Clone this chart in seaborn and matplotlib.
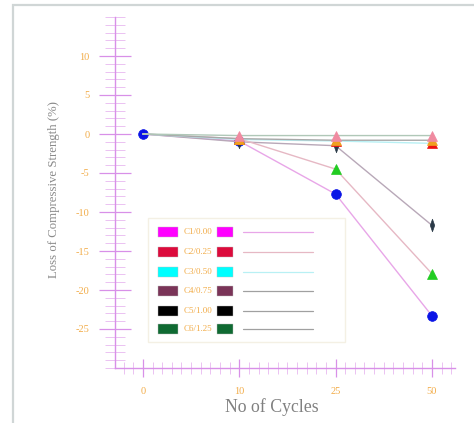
import numpy as np
import pandas as pd
import matplotlib
matplotlib.use("Agg")
import matplotlib.pyplot as plt
import seaborn as sns
from matplotlib.patches import Rectangle
from matplotlib.lines import Line2D
from matplotlib.path import Path
from matplotlib.ticker import MultipleLocator

# ---- data ----
cycles = ["0", "10", "25", "50"]
labels = ["C1/0.00", "C2/0.25", "C3/0.50", "C4/0.75", "C5/1.00", "C6/1.25"]
c1 = [0, -0.9, -7.7, -23.3]
c2 = [0, -0.6, -4.5, -17.9]
c3 = [0, -0.7, -0.9, -1.2]
c4 = [0, -1.0, -1.5, -11.7]
c5 = [0, -0.6, -0.8, -0.8]
c6 = [0, -0.2, -0.2, -0.2]
series = [c1, c2, c3, c4, c5, c6]

legend_colors = ["#ff00ff", "#dc0a3c", "#00ffff", "#7a3458", "#000000", "#0f6a32"]
line_colors = ["#e8a6e8", "#e6b8c4", "#b8f0f4", "#b8a8b8", "#a8a8a8", "#b0c8b8"]
thin_diamond = Path([(0, 1), (0.35, 0), (0, -1), (-0.35, 0), (0, 1)],
                    [Path.MOVETO, Path.LINETO, Path.LINETO, Path.LINETO, Path.CLOSEPOLY])
marker_styles = ["o", "^", "^", thin_diamond, "^", "^"]
marker_sizes = [7, 7, 7, 9, 7, 7]
marker_colors = ["#0a14e6", "#22cc22", "#ee1111", "#2a3a48", "#f0a020", "#f08aa0"]
draw_order = [0, 3, 1, 2, 4, 5]

sns.set_style("white")
plt.rcParams["font.family"] = ["Liberation Serif", "DejaVu Serif"]

fig = plt.figure(figsize=(4.74, 4.23), dpi=100)
ax = fig.add_axes([115/474, 1-368/423, 340/474, 351/423])

pos = np.arange(len(cycles))
for i in draw_order:
    df = pd.DataFrame({"x": pos, "y": series[i]})
    sns.lineplot(data=df, x="x", y="y", ax=ax, color=line_colors[i], lw=1.0,
                 marker=marker_styles[i], markersize=marker_sizes[i],
                 markerfacecolor=marker_colors[i], markeredgecolor=marker_colors[i],
                 markeredgewidth=0.5, zorder=3 + draw_order.index(i),
                 markevery=None if i == 0 else [1, 2, 3])

ax.set_xlim(-0.29, 3.24)
ax.set_ylim(-30, 15)

tick_c = "#d890e8"
lab_c = "#f2ac48"
for s in ["top", "right"]:
    ax.spines[s].set_visible(False)
for s in ["left", "bottom"]:
    ax.spines[s].set_color(tick_c)
    ax.spines[s].set_linewidth(1.0)

ax.set_xticks(pos)
ax.set_xticklabels(cycles)
ax.xaxis.set_minor_locator(MultipleLocator(0.1))
ax.set_yticks([-25, -20, -15, -10, -5, 0, 5, 10])
ax.set_yticklabels(["-25", "-20", "-15", "-10", "-5", "0", "5", "10"])
ax.yaxis.set_minor_locator(MultipleLocator(1))

ax.tick_params(axis="y", which="major", direction="inout", length=23, width=0.9,
               color=tick_c, labelcolor=lab_c, labelsize=7.5, pad=7, left=True)
ax.tick_params(axis="y", which="minor", direction="inout", length=15, width=0.6,
               color="#e8b8f0", left=True)
ax.tick_params(axis="x", which="major", direction="inout", length=13, width=0.9,
               color=tick_c, labelcolor=lab_c, labelsize=7.5, pad=7, bottom=True)
ax.tick_params(axis="x", which="minor", direction="inout", length=8, width=0.6,
               color="#e8b8f0", bottom=True)

ax.set_xlabel("No of Cycles", fontsize=12.8, color="#808080")
ax.set_ylabel("Loss of Compressive Strength (%)", fontsize=9.2, color="#8a8a8a")
ax.xaxis.set_label_coords(0.46, -0.085)
ax.yaxis.set_label_coords(-0.162, 0.507)

# ---- custom legend (figure pixel layout) ----
W, H = 474, 423
def fx(px): return px / W
def fy(py): return 1 - py / H

fig.add_artist(Rectangle((fx(148), fy(342)), (345-148)/W, (342-218)/H,
                         transform=fig.transFigure, facecolor="white",
                         edgecolor="#f4f0e4", lw=1.0, zorder=10))
row_y = [232, 252, 272, 291, 311, 329]
for k, (lab, col, ly) in enumerate(zip(labels, legend_colors, row_y)):
    fig.add_artist(Rectangle((fx(158), fy(ly+5)), 20/W, 10/H, transform=fig.transFigure,
                             facecolor=col, edgecolor="#c0c0c0", lw=0.3, zorder=11))
    fig.add_artist(Rectangle((fx(217), fy(ly+5)), 16/W, 10/H, transform=fig.transFigure,
                             facecolor=col, edgecolor="#c0c0c0", lw=0.3, zorder=11))
    fig.text(fx(197.5), fy(ly), lab, ha="center", va="center", fontsize=6.5,
             color=lab_c, zorder=12)
    lc = line_colors[k] if k < 3 else "#a0a0a0"
    fig.add_artist(Line2D([fx(243), fx(313)], [fy(ly), fy(ly)], transform=fig.transFigure,
                          color=lc, lw=0.9, zorder=11))

# figure border
fig.add_artist(Rectangle((fx(13), fy(440)), 1.2, (440-5)/H, transform=fig.transFigure,
                         facecolor="none", edgecolor="#d0d6d6", lw=1.6, zorder=20))

fig.savefig("out.png", dpi=100)
